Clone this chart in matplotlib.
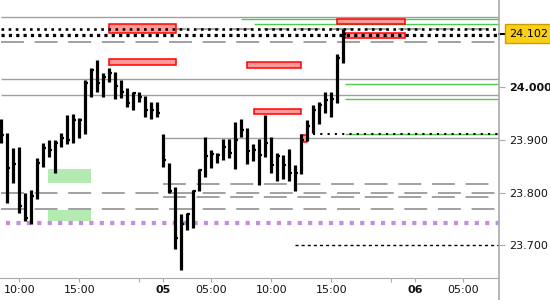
import matplotlib
matplotlib.use("Agg")
import matplotlib.pyplot as plt
from matplotlib.patches import Rectangle
from matplotlib.lines import Line2D

# 30 minute bars, trading-time index
highs = [23.940, 23.913, 23.884, 23.886, 23.799, 23.805, 23.865, 23.894, 23.900, 23.900,
         23.913, 23.947, 23.949, 23.941, 24.014, 24.036, 24.052, 24.027, 24.036, 24.030,
         24.014, 23.998, 23.991, 23.991, 23.983, 23.973, 23.973,
         23.911, 23.856, 23.811, 23.759, 23.762, 23.805, 23.845, 23.905, 23.881, 23.875,
         23.901, 23.901, 23.935, 23.940, 23.923, 23.892, 23.902, 23.947, 23.905, 23.876,
         23.871, 23.883, 23.852, 23.911, 23.938, 23.966, 23.973, 23.991, 23.991, 24.063,
         24.110]
lows = [23.894, 23.781, 23.819, 23.761, 23.745, 23.741, 23.787, 23.848, 23.868, 23.837,
        23.886, 23.892, 23.894, 23.903, 23.911, 23.981, 23.992, 23.981, 24.010, 23.977,
        23.980, 23.963, 23.957, 23.973, 23.944, 23.940, 23.944,
        23.849, 23.800, 23.693, 23.653, 23.729, 23.733, 23.802, 23.830, 23.846, 23.857,
        23.862, 23.865, 23.845, 23.906, 23.854, 23.859, 23.814, 23.868, 23.838, 23.821,
        23.825, 23.821, 23.802, 23.835, 23.897, 23.914, 23.930, 23.952, 23.944, 23.971,
        24.046]
closes = [23.909, 23.846, 23.854, 23.774, 23.752, 23.793, 23.857, 23.885, 23.880, 23.894,
          23.904, 23.900, 23.938, 23.938, 24.009, 24.032, 24.009, 24.020, 24.027, 24.003,
          23.991, 23.970, 23.989, 23.982, 23.957, 23.957, 23.951,
          23.862, 23.802, 23.714, 23.740, 23.759, 23.802, 23.843, 23.869, 23.873, 23.871,
          23.887, 23.875, 23.900, 23.919, 23.879, 23.881, 23.871, 23.895, 23.852, 23.869,
          23.852, 23.838, 23.838, 23.900, 23.926, 23.957, 23.966, 23.975, 23.978, 24.055,
          24.102]

tick_pos = [3, 13, 23, 27, 35, 45, 55, 65, 69, 77]
tick_labels = ["10:00", "15:00", "", "05", "05:00", "10:00", "15:00", "", "06", "05:00"]
day_labels = ["05", "06"]

price_ticks = [24.0, 23.9, 23.8, 23.7]
price_labels = ["24.000", "23.900", "23.800", "23.700"]
last_price = 24.102

# horizontal levels: price and bar index where they start
grey_levels = [24.134, 24.016, 23.985, 23.904]
grey_starts = [0, 0, 0, 27]
dash_levels = [24.1115, 24.086, 23.816, 23.800, 23.791, 23.768]
dash_starts = [27, 0, 27, 0, 27, 0]
green_levels = [24.130, 24.120, 24.006, 23.977, 23.912]
green_starts = [40, 42.1, 57.2, 57.2, 57.2]
dot_levels = [24.110, 24.100]
small_dot_level = 23.912
small_dot_start = 51.9
purple_level = 23.7426
purple_start = 0.8
short_dash_level = 23.700
short_dash_start = 48.9

# zones
red_x0 = [18, 18, 41, 42.1, 49.95, 56, 57.2]
red_x1 = [29.1, 29.1, 50, 50, 51, 67.2, 67.2]
red_lo = [24.1027, 24.0430, 24.0362, 23.9487, 23.8955, 24.1198, 24.0932]
red_hi = [24.1198, 24.0533, 24.0487, 23.9588, 23.9100, 24.1293, 24.1033]
green_x0 = [7.8, 7.8]
green_x1 = [14.95, 14.95]
green_lo = [23.8187, 23.7464]
green_hi = [23.8447, 23.7668]

fig = plt.figure(figsize=(5.5, 3), dpi=100)
ax = fig.add_axes([0, 22 / 300, 499 / 550, 278 / 300])
x_end = 82.95
ax.set_xlim(-0.22, x_end)
ax.set_ylim(23.6375, 24.166)

for lo, hi, x0, x1 in zip(green_lo, green_hi, green_x0, green_x1):
    ax.add_patch(Rectangle((x0, lo), x1 - x0, hi - lo, fc="#b3ebb3", ec="none", zorder=1))

ax.hlines(grey_levels, grey_starts, x_end, color="#a0a0a0", lw=1.0, zorder=2)
ax.hlines(dash_levels, dash_starts, x_end, color="#888888", lw=1.1,
          linestyles=[(0, (15, 7))], zorder=2)
ax.hlines(green_levels, green_starts, x_end, color="#4ccc4c", lw=1.0, zorder=2)
ax.hlines(purple_level, purple_start, x_end, color="#c38de0", lw=3.0,
          linestyles=[(0, (1, 1.5))], zorder=2)
ax.hlines(short_dash_level, short_dash_start, x_end, color="black", lw=1.0,
          linestyles=[(0, (2.2, 2.2))], zorder=2)

for lo, hi, x0, x1 in zip(red_lo, red_hi, red_x0, red_x1):
    ax.add_patch(Rectangle((x0, lo), x1 - x0, hi - lo, fc="#ff9999", ec="#ff0000",
                           lw=1.1, zorder=3))

ax.hlines(dot_levels[0], 0, x_end, color="black", lw=1.9,
          linestyles=[(0, (1, 1.7))], zorder=4)
ax.hlines(dot_levels[1], 0, x_end, color="black", lw=2.3,
          linestyles=[(0, (1, 1.3))], zorder=4)
ax.hlines(small_dot_level, small_dot_start, x_end, color="black", lw=1.5,
          linestyles=[(0, (1, 2.5))], zorder=4)

idx = list(range(len(highs)))
ax.vlines(idx, lows, highs, color="black", lw=2.3, zorder=5)
ax.hlines(closes, idx, [i + 0.5 for i in idx], color="black", lw=1.6, zorder=5)

for side in ["top", "left", "right"]:
    ax.spines[side].set_visible(False)
ax.spines["bottom"].set_color("#aaaaaa")
fig.add_artist(Line2D([499 / 550, 499 / 550], [0, 1], color="#aaaaaa", lw=1.2))

ax.set_xticks(tick_pos)
ax.set_xticklabels(tick_labels)
ax.tick_params(axis="x", colors="#aaaaaa", labelcolor="#111111", length=3, pad=2,
               labelsize=8)
for t in ax.get_xticklabels():
    if t.get_text() in day_labels:
        t.set_fontweight("bold")

ax.yaxis.tick_right()
ax.set_yticks(price_ticks)
ax.set_yticklabels(price_labels)
ax.tick_params(axis="y", colors="#aaaaaa", labelcolor="#111111", length=4, pad=3,
               labelsize=8)
ax.get_yticklabels()[0].set_fontweight("bold")

tr = ax.get_yaxis_transform()
ax.add_line(Line2D([1.0, 1.012], [last_price, last_price], transform=tr, color="black",
                   lw=1.5, clip_on=False))
ax.text(1.02, last_price, "%.3f" % last_price, transform=tr, ha="left", va="center",
        fontsize=8, color="black", clip_on=False,
        bbox=dict(boxstyle="square,pad=0.4", fc="#fbcf14", ec="#c9a000", lw=1))

fig.savefig("out.png", dpi=100)
